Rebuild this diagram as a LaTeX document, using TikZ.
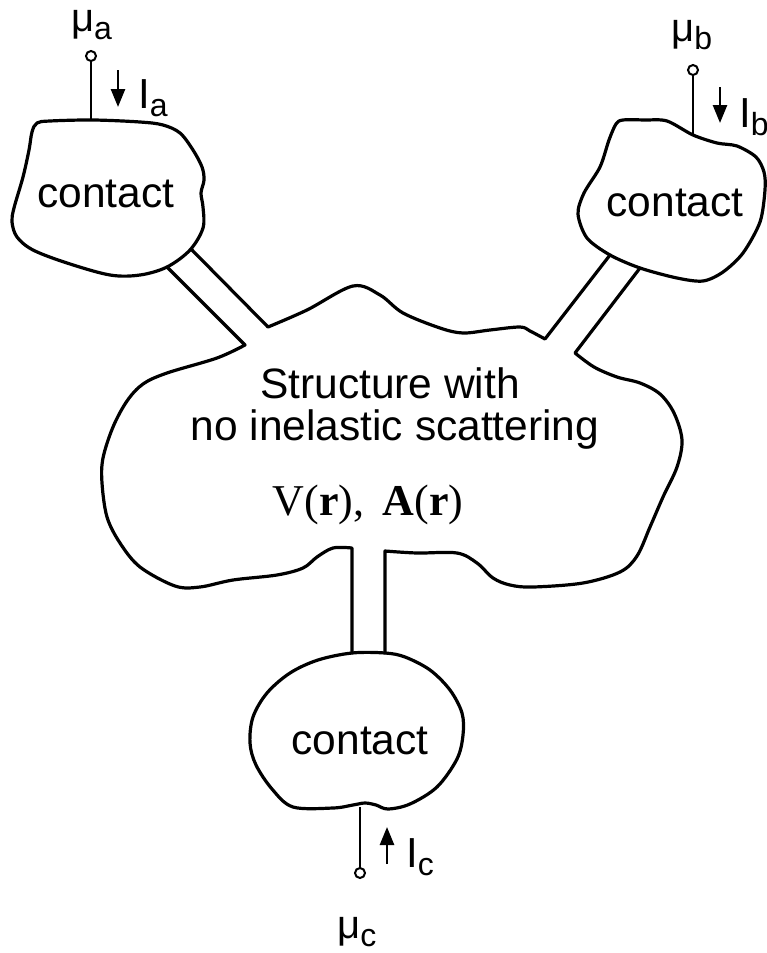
\documentclass[tikz,border=0pt]{standalone}
\usepackage{fontspec}
\setmainfont{Liberation Sans}
\newfontfamily\seriffam{Liberation Serif}
\usetikzlibrary{arrows.meta}
\newcommand\lblsub[3]{{\fontsize{#1}{#1}\selectfont #2\raisebox{-8pt}{\fontsize{32}{32}\selectfont #3}}}
\begin{document}
\begin{tikzpicture}[x=1pt,y=-1pt,
  outline/.style={line width=3.2pt, line join=round, line cap=round},
  wire/.style={line width=2.6pt},
  terminal/.style={circle, draw, line width=2pt, inner sep=0pt, minimum size=10pt, fill=white},
  current/.style={line width=2.6pt, -{Triangle[length=18pt,width=14pt]}},
  txt/.style={font=\fontsize{42.5}{42}\selectfont, inner sep=0pt, anchor=base},
  lbl/.style={inner sep=0pt, anchor=base west}]
\useasboundingbox (0,0) rectangle (767,953);
\fill[white] (0,0) rectangle (767,953);

% ---------- contact a ----------
\draw[outline] plot[smooth cycle, tension=0.55] coordinates {
 (37,123) (50,121) (93,120) (140,122) (163,125) (180,133) (193,150) (202,167)
 (204,180) (201,193) (203,207) (203,228) (190,250) (167,267) (140,275) (110,275)
 (67,263) (33,250) (17,237) (12,222) (14,208) (23,177) (29,150) (32,132)};
% ---------- contact b ----------
\draw[outline] plot[smooth cycle, tension=0.5] coordinates {
 (623,120) (645,120) (667,121) (693,135) (717,143) (737,146) (756,157) (764,172)
 (765,190) (760,222) (743,253) (723,272) (703,281) (677,278) (640,268) (610,255)
 (587,238) (578,214) (584,193) (600,167) (609,140) (616,124)};
% ---------- contact c ----------
\draw[outline] plot[smooth cycle, tension=0.55] coordinates {
 (352,653) (385,653) (405,657) (430,670) (450,690) (462,713) (463,735) (457,759)
 (437,787) (410,804) (388,809) (376,805) (365,803) (353,805) (333,808) (293,807)
 (272,789) (256,765) (250,743) (253,717) (267,693) (290,673) (318,660)};

% ---------- lead end points ----------
\coordinate (a1) at (167,267); \coordinate (a1s) at (245,345);
\coordinate (a2) at (192,250); \coordinate (a2s) at (268,327);
\coordinate (b1) at (610,255); \coordinate (b1s) at (545,339);
\coordinate (b2) at (640,268); \coordinate (b2s) at (575,353);
\coordinate (c1) at (352,653); \coordinate (c1s) at (352,549);
\coordinate (c2) at (385,653); \coordinate (c2s) at (385,551);

% ---------- structure with leads ----------
\draw[outline] (a2) -- plot[smooth, tension=0.55] coordinates {
 (268,327) (307,310) (353,286) (380,295) (403,313) (440,328) (463,333) (490,330)
 (520,327) (530,331) (545,339)} -- (b1);
\draw[outline] (b2) -- plot[smooth, tension=0.55] coordinates {
 (575,353) (594,367) (617,377) (640,383) (660,394) (674,413) (682,440) (677,467)
 (663,497) (650,527) (637,556) (620,572) (583,583) (533,587) (510,585) (493,578)
 (477,563) (457,553) (417,553) (385,551)} -- (c2);
\draw[outline] (c1) -- plot[smooth, tension=0.55] coordinates {
 (352,548) (333,548) (317,557) (303,568) (277,575) (233,580) (200,587) (175,586)
 (140,567) (120,543) (107,517) (102,483) (103,458) (113,427) (127,401) (143,384)
 (167,373) (217,358) (245,345)} -- (a1);

% ---------- terminals ----------
\coordinate (wa) at (91,121);
\coordinate (wb) at (693,135);
\coordinate (wc) at (360,807);
\node[terminal] (ta) at (91,56) {};
\node[terminal] (tb) at (693,70) {};
\node[terminal] (tc) at (360,873) {};
\draw[wire] (ta) -- (wa);
\draw[wire] (tb) -- (wb);
\draw[wire] (tc) -- (wc);

% ---------- currents ----------
\coordinate (ia0) at (118,70); \coordinate (ia1) at (118,107);
\coordinate (ib0) at (720,87); \coordinate (ib1) at (720,123);
\coordinate (ic0) at (387,864); \coordinate (ic1) at (387,827);
\draw[current] (ia0) -- (ia1);
\draw[current] (ib0) -- (ib1);
\draw[current] (ic0) -- (ic1);

% ---------- labels ----------
\node[lbl] (mua) at (71,31) {\lblsub{40}{μ}{a}};
\node[lbl] (mub) at (671,41) {\lblsub{40}{μ}{b}};
\node[lbl] (muc) at (337,938) {\lblsub{40}{μ}{c}};
\node[lbl] (Ia) at (138,108) {\lblsub{42}{I}{a}};
\node[lbl] (Ib) at (739,127) {\lblsub{42}{I}{b}};
\node[lbl] (Ic) at (406,867) {\lblsub{42}{I}{c}};

% ---------- texts ----------
\node[txt] (ca) at (106,207) {contact};
\node[txt] (cb) at (675,216) {contact};
\node[txt] (cc) at (360,754) {contact};
\node[txt] (s1) at (390,398) {Structure with};
\node[txt] (s2) at (395,440) {no inelastic scattering};
\node[txt, font=\seriffam\fontsize{44}{44}\selectfont] (eq) at (368,515)
 {V(\textbf{r}), \,\textbf{A}(\textbf{r})};
\end{tikzpicture}
\end{document}
